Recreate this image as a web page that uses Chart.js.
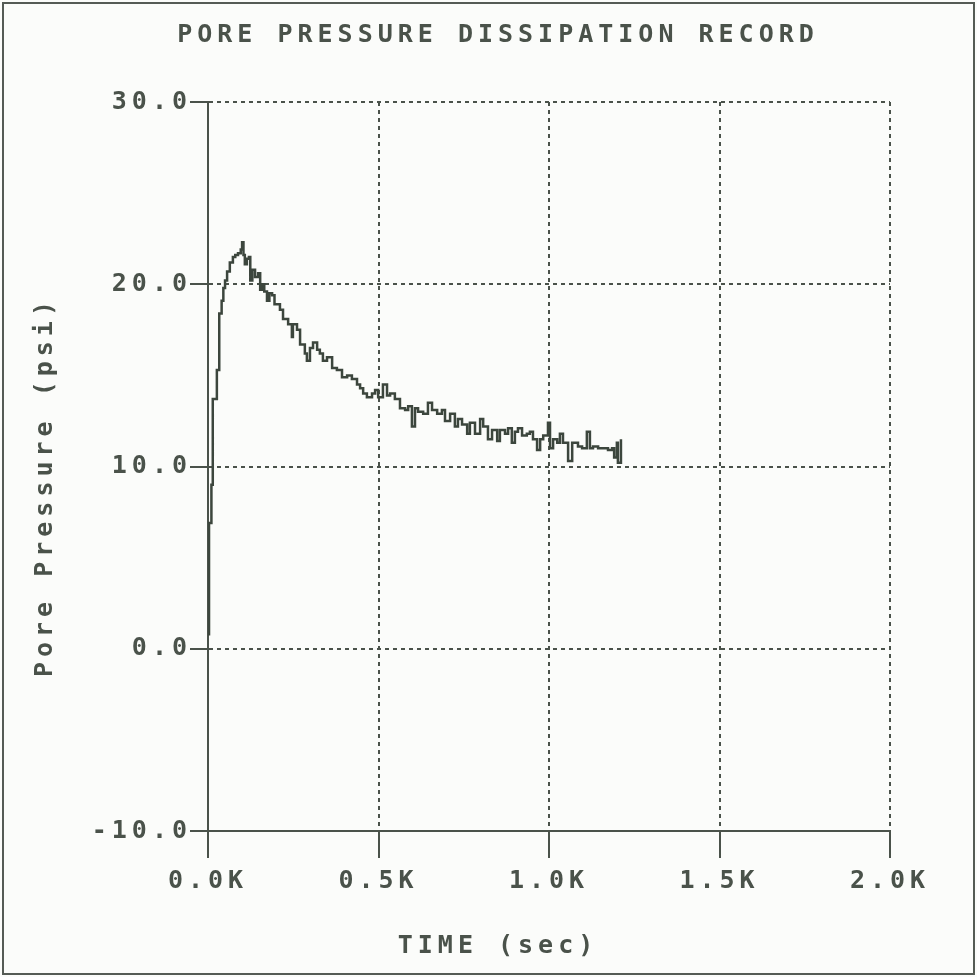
<!DOCTYPE html>
<html>
<head>
<meta charset="utf-8">
<title>Pore Pressure Dissipation Record</title>
<script src="https://cdn.jsdelivr.net/npm/chart.js@4.4.1/dist/chart.umd.min.js"></script>
<style>
  html, body { margin: 0; padding: 0; background: #fbfcfa; }
  #chart { display: block; }
</style>
</head>
<body>
<canvas id="chart" width="977" height="977"></canvas>
<script>
// time in seconds, pore pressure in psi
const timeSec = [0, 3, 10, 14, 26, 33, 40, 45, 50, 56, 64, 73, 80, 88, 96, 100, 104, 108, 114, 120,
  124, 130, 138, 147, 153, 158, 165, 173, 180, 188, 195, 202, 211, 220, 235, 246, 249, 261, 270, 284,
  290, 299, 308, 320, 328, 337, 349, 364, 378, 393, 408, 422, 437, 446, 455, 466, 481, 490, 499, 513,
  525, 534, 548, 563, 578, 587, 598, 607, 616, 631, 645, 657, 672, 686, 695, 710, 724, 733, 745, 760,
  768, 783, 798, 807, 821, 833, 848, 856, 871, 880, 891, 900, 909, 921, 935, 944, 953, 965, 974, 983,
  997, 1003, 1012, 1024, 1032, 1041, 1056, 1068, 1076, 1085, 1097, 1111, 1120, 1129, 1144, 1158, 1173, 1185, 1191, 1199,
  1202, 1211];
const porePsi = [0.8, 6.9, 9.0, 13.7, 15.3, 18.4, 19.1, 19.8, 20.2, 20.7, 21.2, 21.5, 21.6, 21.7, 21.9, 22.3, 21.6, 21.1, 21.4, 21.5,
  20.2, 20.8, 20.4, 20.6, 19.7, 20.0, 19.6, 19.1, 19.5, 19.4, 18.9, 18.9, 18.6, 18.1, 17.8, 17.1, 17.8, 17.5, 16.7, 16.2,
  15.8, 16.5, 16.8, 16.4, 16.2, 15.8, 16.0, 15.4, 15.3, 14.9, 15.0, 14.8, 14.5, 14.3, 14.0, 13.8, 14.0, 14.2, 13.8, 14.5,
  13.9, 14.0, 13.7, 13.2, 13.1, 13.3, 12.2, 13.2, 13.0, 12.9, 13.5, 13.1, 12.9, 13.1, 12.5, 12.9, 12.2, 12.6, 12.3, 11.8,
  12.4, 11.8, 12.6, 12.2, 11.5, 12.0, 11.4, 12.0, 11.8, 12.1, 11.3, 11.9, 12.1, 11.7, 11.8, 11.9, 11.5, 10.9, 11.5, 11.7,
  12.4, 11.0, 11.5, 11.3, 11.8, 11.3, 10.3, 11.3, 11.3, 11.1, 11.0, 11.9, 11.0, 11.1, 11.0, 11.0, 10.9, 11.0, 10.5, 11.3,
  10.2, 11.5];

const xTickLabels = ['0.0K', '0.5K', '1.0K', '1.5K', '2.0K'];
const yTickLabels = ['-10.0', '0.0', '10.0', '20.0', '30.0'];

const ink = '#4a524a';
const font = { family: '"DejaVu Sans Mono", "Liberation Mono", monospace', size: 25, weight: 'bold' };

// wide letter spacing like the old plotter font
const spacing = {
  id: 'spacing',
  beforeUpdate(chart) { chart.ctx.letterSpacing = '5px'; },
  beforeDraw(chart) {
    const ctx = chart.ctx;
    ctx.letterSpacing = '5px';
    ctx.save();
    ctx.fillStyle = '#fbfcfa';
    ctx.fillRect(0, 0, chart.width, chart.height);
    ctx.restore();
  },
  afterDraw(chart) {
    const ctx = chart.ctx;
    ctx.save();
    ctx.strokeStyle = '#555b55';
    ctx.lineWidth = 2;
    ctx.strokeRect(3, 3, chart.width - 6, chart.height - 6);
    ctx.restore();
  }
};

const points = timeSec.map((t, i) => ({ x: t, y: porePsi[i] }));

new Chart(document.getElementById('chart'), {
  type: 'line',
  data: {
    datasets: [{
      data: points,
      borderColor: '#3c463d',
      borderWidth: 2.5,
      pointRadius: 0,
      stepped: true,
      fill: false
    }]
  },
  options: {
    responsive: false,
    animation: false,
    layout: { padding: { left: 19, right: 0, top: 0, bottom: 0 } },
    plugins: {
      legend: { display: false },
      tooltip: { enabled: false },
      title: {
        display: true,
        text: 'PORE PRESSURE DISSIPATION RECORD',
        color: ink,
        font: font,
        padding: { top: 20, bottom: 52 }
      },
      subtitle: {
        display: true,
        position: 'bottom',
        text: 'TIME (sec)',
        color: ink,
        font: font,
        padding: { top: 0, bottom: 16 }
      }
    },
    scales: {
      x: {
        type: 'linear',
        min: 0,
        max: 2000,
        ticks: {
          stepSize: 500,
          color: ink,
          font: font,
          padding: 8,
          maxRotation: 0,
          callback: (v, i) => xTickLabels[i]
        },
        grid: { color: ink, lineWidth: 2, tickLength: 27, tickWidth: 2, tickColor: ink, tickBorderDash: [] },
        border: { color: ink, width: 2, dash: [4, 4] },
        afterFit(scale) { scale.height = 100; }
      },
      y: {
        min: -10,
        max: 30,
        ticks: {
          stepSize: 10,
          color: ink,
          font: font,
          padding: -2,
          callback: (v, i) => yTickLabels[i]
        },
        grid: { color: ink, lineWidth: 2, tickLength: 18, tickWidth: 2, tickColor: ink, tickBorderDash: [] },
        border: { color: ink, width: 2, dash: [4, 4] },
        title: {
          display: true,
          text: 'Pore Pressure (psi)  ',
          color: ink,
          font: font,
          padding: { top: 11, bottom: 0 }
        },
        afterFit(scale) { scale.width = 189; }
      },
      edge: {
        position: 'right',
        display: true,
        ticks: { display: false },
        grid: { display: false },
        border: { display: false },
        afterFit(scale) { scale.width = 87; }
      }
    }
  },
  plugins: [spacing]
});
</script>
</body>
</html>
